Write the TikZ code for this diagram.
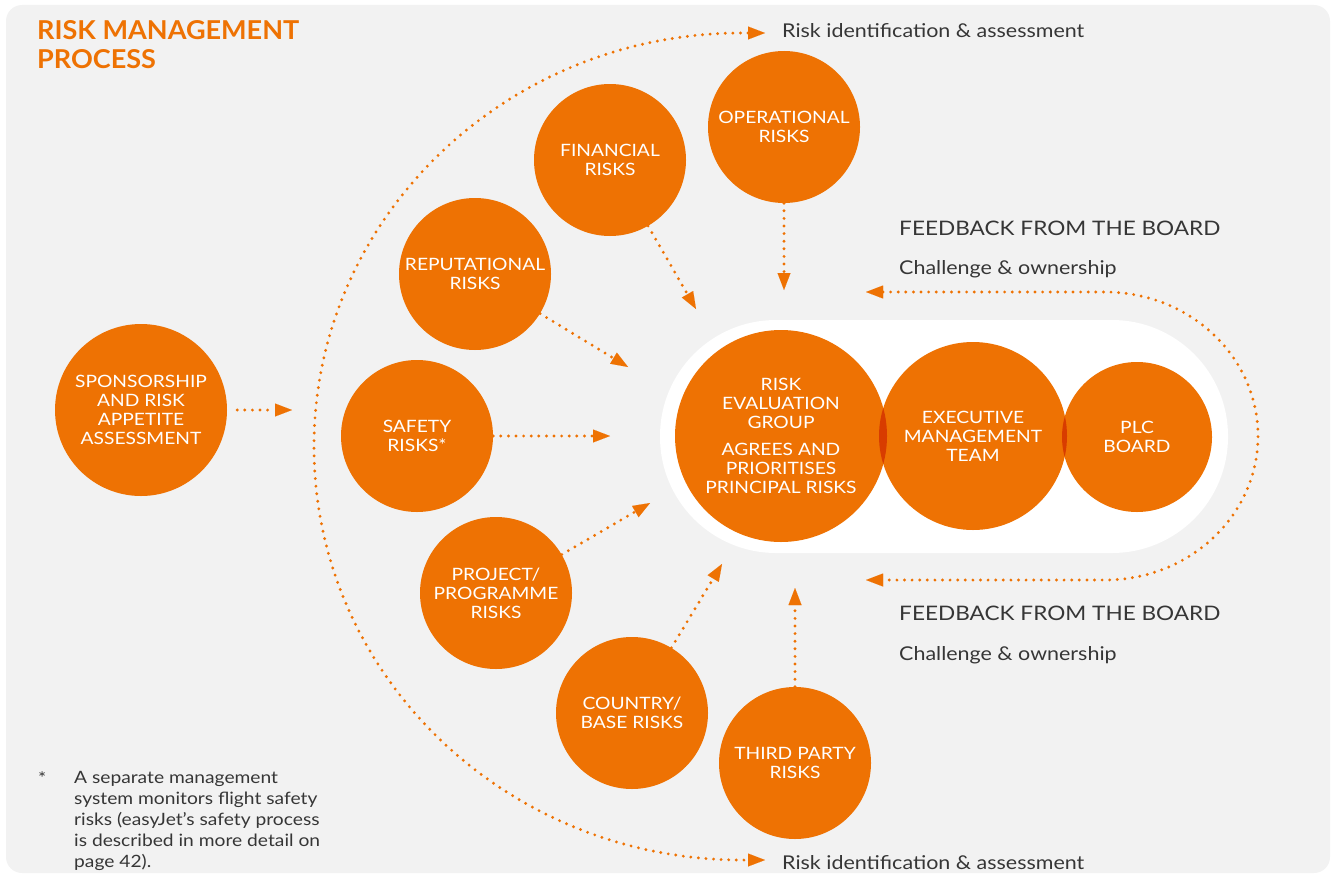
\documentclass[tikz,border=0pt]{standalone}
\usepackage{fontspec}
\setmainfont{Lato}[FakeStretch=1.13]
\newfontfamily\ejtitle{Lato}[FakeStretch=1.04]
\usepackage{tikz}
\usetikzlibrary{arrows.meta,positioning,shapes}
\definecolor{ejorange}{HTML}{EE7203}
\definecolor{ejlens}{HTML}{D83C00}
\definecolor{ejgrey}{HTML}{F2F2F2}
\definecolor{ejtext}{HTML}{363636}
\tikzstyle{risk} = [circle, fill=ejorange, text=white, align=center, inner sep=0pt,
    minimum size=152pt, font=\fontsize{17}{19}\selectfont]
\tikzstyle{dots} = [ejorange, line width=3.2pt, line cap=round, dash pattern=on 0pt off 7.6pt]
\tikzstyle{note} = [text=ejtext, inner sep=0pt, font=\fontsize{19}{22}\selectfont]
\tikzset{ejtip/.tip={Triangle[length=17pt,width=13pt,line width=0.01pt]}}

\begin{document}
\begin{tikzpicture}[x=1pt, y=-1pt]
  \useasboundingbox (0,0) rectangle (1332,875);
  \fill [ejgrey, rounded corners=16pt] (6,5) rectangle (1330,873);
  \fill [white, rounded corners=116pt] (660,320) rectangle (1228,553);

  \node [anchor=north west, inner sep=0pt, align=left, text=ejorange,
    font=\ejtitle\bfseries\fontsize{26}{29}\selectfont] (title) at (37,20) {RISK MANAGEMENT\\PROCESS};

  \node [risk, minimum size=172pt] (spons) at (141,410) {SPONSORSHIP\\AND RISK\\APPETITE\\ASSESSMENT};
  \node [risk] (safety) at (417,436) {SAFETY\\RISKS*};
  \node [risk] (rep) at (475,274) {REPUTATIONAL\\RISKS};
  \node [risk] (fin) at (610,160) {FINANCIAL\\RISKS};
  \node [risk] (oper) at (784,127) {OPERATIONAL\\RISKS};
  \node [risk] (proj) at (496,593) {PROJECT/\\PROGRAMME\\RISKS};
  \node [risk] (country) at (632,713) {COUNTRY/\\BASE RISKS};
  \node [risk] (third) at (795,763) {THIRD PARTY\\RISKS};

  \node [risk, minimum size=212pt] (reg) at (781,436) {RISK\\EVALUATION\\GROUP\\[8pt]AGREES AND\\PRIORITISES\\PRINCIPAL RISKS};
  \node [risk, minimum size=188pt] (emt) at (973,436) {EXECUTIVE\\MANAGEMENT\\TEAM};
  \node [risk, minimum size=150pt] (plc) at (1137,437) {PLC\\BOARD};
  \begin{scope}
    \clip (reg.center) circle [radius=106];
    \fill [ejlens] (emt.center) circle [radius=94];
  \end{scope}
  \begin{scope}
    \clip (emt.center) circle [radius=94];
    \fill [ejlens] (plc.center) circle [radius=75];
  \end{scope}

  \coordinate (tspons) at (292,410);
  \coordinate (tsafety) at (610,436);
  \coordinate (trep) at (628,367);
  \coordinate (tfin) at (696,309);
  \coordinate (toper) at (784,290);
  \coordinate (tproj) at (650,503);
  \coordinate (tcountry) at (722,564);
  \coordinate (tthird) at (795,588);
  \draw [dots, -ejtip, shorten <=10pt] (spons) -- (tspons);
  \draw [dots, -ejtip] (safety) -- (tsafety);
  \draw [dots, -ejtip] (rep) -- (trep);
  \draw [dots, -ejtip] (fin) -- (tfin);
  \draw [dots, -ejtip] (oper) -- (toper);
  \draw [dots, -ejtip] (proj) -- (tproj);
  \draw [dots, -ejtip] (country) -- (tcountry);
  \draw [dots, -ejtip] (third) -- (tthird);

  \coordinate (idtop) at (765,33);
  \coordinate (idbot) at (765,860);
  \draw [dots, ejtip-ejtip] (idtop) -- (742,33)
    arc [start angle=270, end angle=90, x radius=428, y radius=413.5] -- (idbot);
  \node [note, anchor=west] (idtoplbl) at (782,31) {Risk identification \& assessment};
  \node [note, anchor=west] (idbotlbl) at (782,863) {Risk identification \& assessment};

  \coordinate (fbtop) at (866,292);
  \coordinate (fbbot) at (866,580);
  \draw [dots, ejtip-ejtip] (fbtop) -- (1105,292)
    arc [start angle=270, end angle=450, x radius=153, y radius=144] -- (fbbot);
  \node [note, anchor=west, font=\fontsize{20}{24}\selectfont] (fbtoplbl) at (899,228) {FEEDBACK FROM THE BOARD};
  \node [note, anchor=west] (chtoplbl) at (899,269) {Challenge \& ownership};
  \node [note, anchor=west, font=\fontsize{20}{24}\selectfont] (fbbotlbl) at (899,613) {FEEDBACK FROM THE BOARD};
  \node [note, anchor=west] (chbotlbl) at (899,655) {Challenge \& ownership};

  \node [note, anchor=north west, font=\fontsize{17}{21}\selectfont] (star) at (38,771) {*};
  \node [note, anchor=north west, align=left, font=\fontsize{17}{21}\selectfont] (foot) at (74,771)
    {A separate management\\system monitors flight safety\\risks (easyJet’s safety process\\is described in more detail on\\page 42).};
\end{tikzpicture}
\end{document}
